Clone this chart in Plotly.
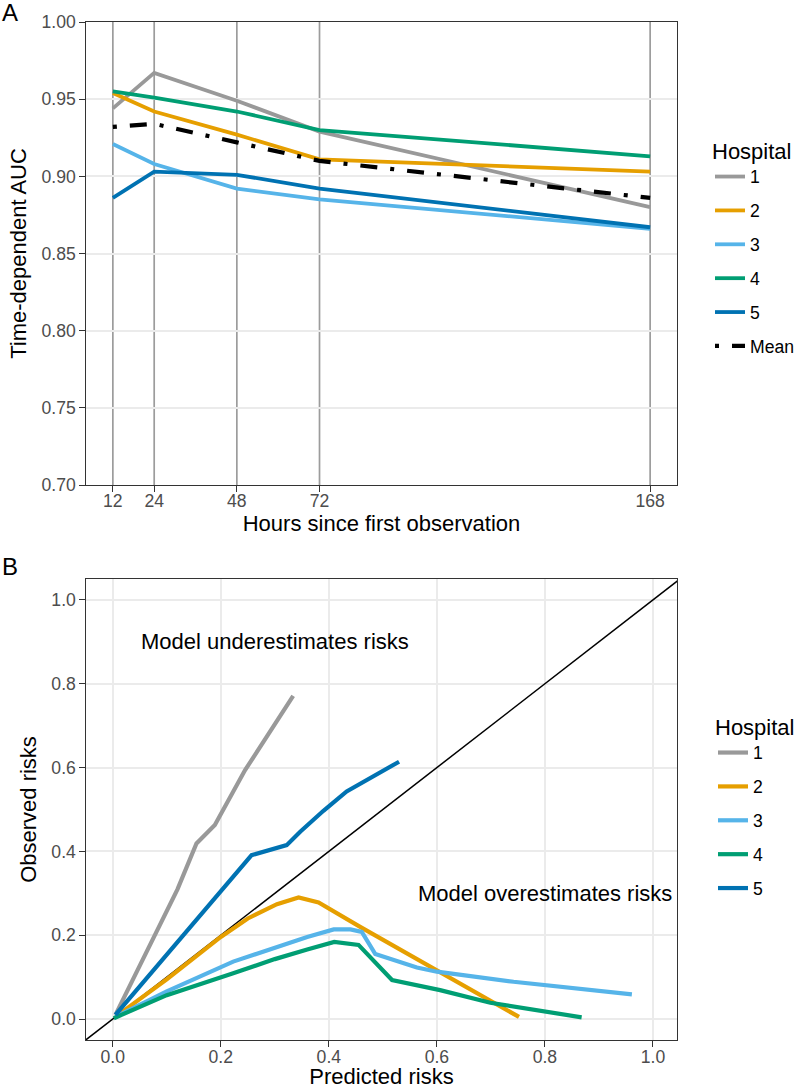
import plotly.graph_objects as go

# ---------------- Data ----------------
hours = [12, 24, 48, 72, 168]
hospitals = ["1", "2", "3", "4", "5"]
auc_h1 = [0.944, 0.967, 0.949, 0.929, 0.880]
auc_h2 = [0.954, 0.942, 0.927, 0.911, 0.903]
auc_h3 = [0.921, 0.908, 0.892, 0.885, 0.866]
auc_h4 = [0.955, 0.951, 0.942, 0.930, 0.913]
auc_h5 = [0.886, 0.903, 0.901, 0.892, 0.867]
auc_mean = [0.932, 0.934, 0.922, 0.910, 0.886]

pred_h1 = [0.005, 0.12, 0.155, 0.189, 0.245, 0.334]
obs_h1 = [0.010, 0.31, 0.419, 0.463, 0.594, 0.771]
pred_h2 = [0.010, 0.10, 0.20, 0.25, 0.304, 0.344, 0.381, 0.458, 0.752]
obs_h2 = [0.010, 0.095, 0.196, 0.24, 0.274, 0.290, 0.278, 0.220, 0.005]
pred_h3 = [0.005, 0.10, 0.223, 0.30, 0.36, 0.409, 0.44, 0.461, 0.486, 0.563, 0.60, 0.742, 0.961]
obs_h3 = [0.005, 0.066, 0.137, 0.17, 0.196, 0.214, 0.214, 0.208, 0.155, 0.123, 0.113, 0.089, 0.059]
pred_h4 = [0.002, 0.10, 0.223, 0.30, 0.36, 0.41, 0.455, 0.517, 0.606, 0.699, 0.868]
obs_h4 = [0.002, 0.057, 0.109, 0.143, 0.166, 0.184, 0.177, 0.093, 0.069, 0.039, 0.004]
pred_h5 = [0.005, 0.196, 0.257, 0.322, 0.347, 0.39, 0.433, 0.530]
obs_h5 = [0.010, 0.300, 0.391, 0.415, 0.447, 0.497, 0.543, 0.614]

colors = ["#999999", "#E69F00", "#56B4E9", "#009E73", "#0072B2"]

FONT = "Liberation Sans, Arial, sans-serif"
TICK = 17.6
TITLE = 22

fig = go.Figure()

# ---------------- Panel A ----------------
auc_all = [auc_h1, auc_h2, auc_h3, auc_h4, auc_h5]
for i, (name, vals) in enumerate(zip(hospitals, auc_all)):
    fig.add_trace(go.Scatter(
        x=hours, y=vals, mode="lines", name=name,
        line=dict(color=colors[i], width=3.8),
        legend="legend", legendgroup="a" + name,
        xaxis="x", yaxis="y"))
fig.add_trace(go.Scatter(
    x=hours, y=auc_mean, mode="lines", name="Mean",
    line=dict(color="black", width=4.2, dash="4px,13px,17px,13px"),
    legend="legend", legendgroup="amean", xaxis="x", yaxis="y"))

# ---------------- Panel B ----------------
fig.add_trace(go.Scatter(
    x=[-0.2, 1.2], y=[-0.2, 1.2], mode="lines", showlegend=False,
    line=dict(color="black", width=1.5), xaxis="x2", yaxis="y2",
    hoverinfo="skip"))
pred_all = [pred_h1, pred_h2, pred_h3, pred_h4, pred_h5]
obs_all = [obs_h1, obs_h2, obs_h3, obs_h4, obs_h5]
for i, name in enumerate(hospitals):
    fig.add_trace(go.Scatter(
        x=pred_all[i], y=obs_all[i], mode="lines", name=name,
        line=dict(color=colors[i], width=4.2),
        legend="legend2", legendgroup="b" + name,
        xaxis="x2", yaxis="y2"))

# vertical reference lines in panel A
for h in hours:
    fig.add_shape(type="line", xref="x", yref="y domain", x0=h, x1=h, y0=0, y1=1,
                  line=dict(color="#9C9C9C", width=1.7), layer="below")

# ---------------- Layout ----------------
W, H = 797, 1089
ml, mr, mt, mb = 86, 120, 22, 49
pw = W - ml - mr
ph = H - mt - mb
A_bottom = (1040 - 485) / ph
B_top = (1040 - 579) / ph

axis_common = dict(
    showline=True, linecolor="#333333", linewidth=1.3, mirror=True,
    ticks="outside", ticklen=5.5, tickwidth=1.3, tickcolor="#333333",
    tickfont=dict(size=TICK, color="#4D4D4D", family=FONT),
    gridcolor="#EBEBEB", gridwidth=2, zeroline=False,
)

fig.update_layout(
    width=W, height=H,
    margin=dict(l=ml, r=mr, t=mt, b=mb, autoexpand=False),
    paper_bgcolor="white", plot_bgcolor="white",
    font=dict(family=FONT, color="black"),
    xaxis=dict(axis_common, domain=[0, 1], range=[4.2, 175.8], anchor="y",
               tickvals=hours, ticktext=[str(h) for h in hours], showgrid=False,
               ticklabelstandoff=-6,
               title=dict(text="Hours since first observation",
                          font=dict(size=TITLE, color="black"), standoff=0)),
    yaxis=dict(axis_common, domain=[A_bottom, 1], range=[0.70, 1.00], anchor="x",
               tickvals=[0.70, 0.75, 0.80, 0.85, 0.90, 0.95, 1.00],
               ticktext=["0.70", "0.75", "0.80", "0.85", "0.90", "0.95", "1.00"],
               title=dict(text="Time-dependent AUC",
                          font=dict(size=TITLE, color="black"), standoff=8)),
    xaxis2=dict(axis_common, domain=[0, 1], range=[-0.0495, 1.0445], anchor="y2",
                tickvals=[0, 0.2, 0.4, 0.6, 0.8, 1.0],
                ticktext=["0.0", "0.2", "0.4", "0.6", "0.8", "1.0"],
                ticklabelstandoff=-5,
                title=dict(text="Predicted risks",
                           font=dict(size=TITLE, color="black"), standoff=4)),
    yaxis2=dict(axis_common, domain=[0, B_top], range=[-0.05, 1.05], anchor="x2",
                tickvals=[0, 0.2, 0.4, 0.6, 0.8, 1.0],
                ticktext=["0.0", "0.2", "0.4", "0.6", "0.8", "1.0"],
                title=dict(text="Observed risks",
                           font=dict(size=TITLE, color="black"), standoff=8)),
    legend=dict(x=(710 - ml) / pw, xanchor="left", y=(1040 - 130) / ph, yanchor="top",
                title=dict(text="Hospital", font=dict(size=TITLE, color="black")),
                font=dict(size=TICK, color="black"), tracegroupgap=8,
                bgcolor="rgba(0,0,0,0)", itemwidth=30),
    legend2=dict(x=(713 - ml) / pw, xanchor="left", y=(1040 - 706) / ph, yanchor="top",
                 title=dict(text="Hospital", font=dict(size=TITLE, color="black")),
                 font=dict(size=TICK, color="black"), tracegroupgap=8,
                 bgcolor="rgba(0,0,0,0)", itemwidth=30),
    annotations=[
        dict(text="Model underestimates risks", x=0.3, y=0.9, xref="x2", yref="y2",
             showarrow=False, font=dict(size=TITLE, color="black")),
        dict(text="Model overestimates risks", x=0.8, y=0.3, xref="x2", yref="y2",
             showarrow=False, font=dict(size=TITLE, color="black")),
        dict(text="A", x=-ml / pw, y=(1040 - 13) / ph, xref="paper", yref="paper",
             xanchor="left", yanchor="middle", showarrow=False, font=dict(size=24, color="black")),
        dict(text="B", x=-ml / pw, y=(1040 - 566) / ph, xref="paper", yref="paper",
             xanchor="left", yanchor="middle", showarrow=False, font=dict(size=24, color="black")),
    ],
)

fig.write_html("out.html", config={"displayModeBar": False},
               post_script="document.body.style.margin='0px';")
